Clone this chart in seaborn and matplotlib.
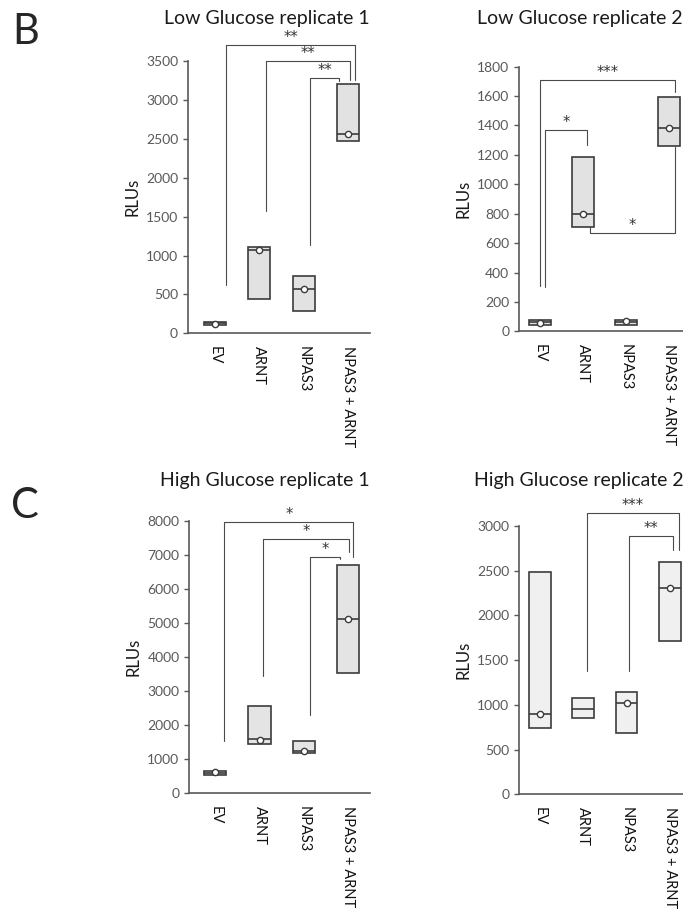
import numpy as np
import pandas as pd
import seaborn as sns
import matplotlib.pyplot as plt

sns.set_style("white")
plt.rcParams['font.family'] = ['Lato', 'DejaVu Sans']

# categories shared by all panels
groups = ["EV", "ARNT", "NPAS3", "NPAS3 + ARNT"]

# Low glucose replicate 1 (min, median, max, mean)
low1_min = [105, 445, 285, 2470]
low1_med = [130, 1075, 565, 2565]
low1_max = [140, 1115, 730, 3212]
low1_mean = [120, 1075, 567, 2565]

# Low glucose replicate 2
low2_min = [45, 713, 45, 1258]
low2_med = [61, 800, 61, 1383]
low2_max = [75, 1184, 75, 1592]
low2_mean = [57, 800, 68, 1383]

# High glucose replicate 1
high1_min = [540, 1443, 1178, 3533]
high1_med = [590, 1590, 1246, 5133]
high1_max = [667, 2581, 1541, 6723]
high1_mean = [638, 1570, 1250, 5130]

# High glucose replicate 2
high2_min = [737, 849, 681, 1716]
high2_med = [897, 953, 1016, 2307]
high2_max = [2486, 1072, 1139, 2598]
high2_mean = [897, np.nan, 1016, 2307]

# significance brackets: (x1, x2, y, leg1 end, leg2 end, label)
low1_sig = [(0.25, 3.16, 3705, 620, 3263, "**"),
            (1.16, 3.05, 3500, 1567, 3263, "**"),
            (2.14, 2.80, 3285, 1138, 3250, "**")]
low2_sig = [(0.00, 3.14, 1709, 310, 1630, "***"),
            (0.12, 1.09, 1370, 305, 1268, "*"),
            (1.16, 3.14, 668, 713, 1256, "*")]
high1_sig = [(0.20, 3.12, 7978, 1541, 6948, "*"),
             (1.07, 3.02, 7488, 3454, 7095, "*"),
             (2.14, 2.82, 6948, 2306, 6900, "*")]
high2_sig = [(1.09, 3.20, 3145, 1380, 2728, "***"),
             (2.05, 3.07, 2884, 1380, 2728, "**")]

panels = [
    ("Low Glucose replicate 1", low1_min, low1_med, low1_max, low1_mean, low1_sig,
     [0.275, 0.635, 0.267, 0.298], (-0.61, 3.5), 3500, 500, "#e2e2e2", (0.39, 0.980)),
    ("Low Glucose replicate 2", low2_min, low2_med, low2_max, low2_mean, low2_sig,
     [0.760, 0.637, 0.240, 0.290], (-0.49, 3.33), 1800, 200, "#e2e2e2", (0.849, 0.980)),
    ("High Glucose replicate 1", high1_min, high1_med, high1_max, high1_mean, high1_sig,
     [0.277, 0.131, 0.265, 0.298], (-0.59, 3.5), 8000, 1000, "#e4e4e4", (0.388, 0.474)),
    ("High Glucose replicate 2", high2_min, high2_med, high2_max, high2_mean, high2_sig,
     [0.760, 0.130, 0.240, 0.294], (-0.48, 3.3), 3000, 500, "#f0f0f0", (0.848, 0.474)),
]

edge = "#3c3c3c"
axis_col = "#595959"

fig = plt.figure(figsize=(6.83, 9.13), dpi=100)

for title, lo, med, hi, mean, sig, rect, xlim, ymax, ystep, fill, tpos in panels:
    ax = fig.add_axes(rect)
    # five-point sets so that Q1 = min, median = median, Q3 = max
    rows = []
    for g, a, m, b in zip(groups, lo, med, hi):
        for v in (a, a, m, b, b):
            rows.append((g, v))
    df = pd.DataFrame(rows, columns=["group", "RLU"])
    sns.boxplot(data=df, x="group", y="RLU", order=groups, whis=0, width=0.5,
                color=fill, saturation=1, linecolor=edge, linewidth=1.2,
                showcaps=False, fliersize=0, ax=ax, zorder=3)
    mdf = pd.DataFrame({"group": groups, "mean": mean}).dropna()
    sns.stripplot(data=mdf, x="group", y="mean", order=groups, jitter=False,
                  color="white", edgecolor=edge, linewidth=1, size=4.5,
                  ax=ax, zorder=5)

    for x1, x2, y, e1, e2, lab in sig:
        ax.plot([x1, x1, x2, x2], [e1, y, y, e2], color="#4a4a4a", lw=0.8,
                clip_on=False, zorder=2)
        ax.annotate(lab, ((x1 + x2) / 2, y), xytext=(0, 0),
                    textcoords="offset points", ha="center", va="bottom",
                    fontsize=10.5, color="#333333", annotation_clip=False,
                    family="DejaVu Sans")

    ax.set_xlim(*xlim)
    ax.set_ylim(0, ymax)
    ax.set_yticks(np.arange(0, ymax + 1, ystep))
    ax.set_xlabel("")
    ax.set_ylabel("RLUs", fontsize=12, labelpad=4, color="#1a1a1a")
    ax.tick_params(axis="y", labelsize=10, labelcolor=axis_col, color=axis_col,
                   length=3.5, width=1, left=True, direction="out")
    ax.tick_params(axis="x", labelsize=10.5, labelcolor="#111111", length=0, pad=9)
    plt.setp(ax.get_xticklabels(), rotation=270, va="top")
    sns.despine(ax=ax)
    for s in ("left", "bottom"):
        ax.spines[s].set_color(axis_col)
        ax.spines[s].set_linewidth(1.2)
    ax.patch.set_alpha(0)
    fig.text(tpos[0], tpos[1], title, ha="center", va="center", fontsize=14,
             color="#1a1a1a")

fig.text(0.037, 0.965, "B", ha="center", va="center", fontsize=30)
fig.text(0.036, 0.446, "C", ha="center", va="center", fontsize=30)

fig.savefig("out.png", dpi=100)
